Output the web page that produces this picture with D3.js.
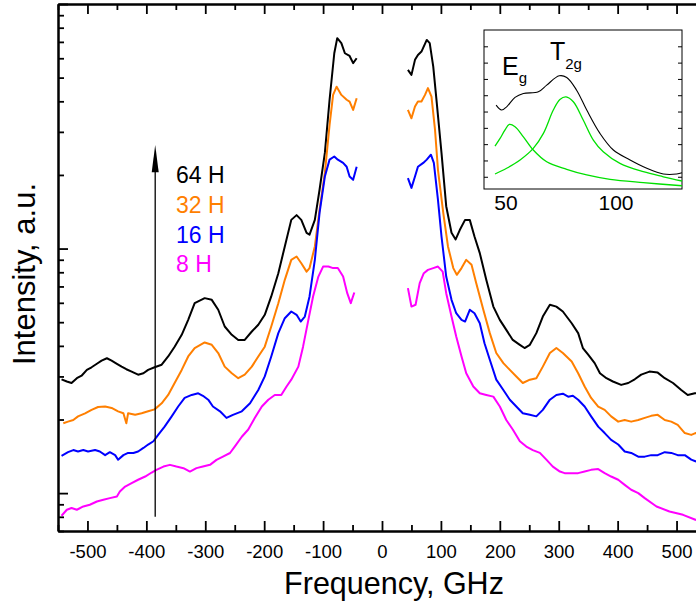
<!DOCTYPE html>
<html>
<head>
<meta charset="utf-8">
<script src="https://cdn.jsdelivr.net/npm/d3@7"></script>
<style>
  body { margin: 0; background: #fff; }
  svg text { font-family: "Liberation Sans", Arial, sans-serif; }
</style>
</head>
<body>
<div id="chart"></div>
<script>
// spectra: [frequency GHz, intensity a.u.]
const h64 = [
  [-544,2.92],[-535,2.86],[-527,2.82],[-518,2.95],[-510,3.02],[-501,3.19],[-493,3.27],[-484,3.38],[-476,3.48],[-467,3.56],
  [-459,3.48],[-450,3.38],[-442,3.29],[-434,3.21],[-425,3.14],[-414,3.05],[-405,3.09],[-397,3.19],[-386,3.27],[-374,3.35],
  [-363,3.62],[-352,3.97],[-340,4.44],[-329,5.11],[-318,5.98],[-301,6.27],[-289,6.17],[-278,5.62],[-267,4.80],[-255,4.44],
  [-244,4.23],[-233,4.23],[-221,4.58],[-210,4.88],[-199,5.36],[-188,6.37],[-176,7.93],[-165,10.2],[-154,13.1],[-145,13.7],
  [-137,13.1],[-128,11.6],[-123,11.4],[-114,13.1],[-106,17.4],[-97,24.6],[-89,40.6],[-81,62.9],[-76,72.5],[-69,69.2],
  [-63,62.9],[-55,61.3],[-49,57.3],[-43,60.0],
  [44,53.8],[50,51.3],[56,59.1],[61,61.9],[67,63.9],[76,71.3],[81,69.2],[87,55.5],[93,39.3],[101,24.6],
  [109,14.9],[118,11.6],[125,10.9],[132,11.9],[141,13.1],[149,13.1],[157,11.2],[166,9.58],[177,7.45],[189,5.79],
  [200,5.11],[211,4.65],[222,4.23],[234,4.04],[242,3.92],[251,4.04],[262,4.51],[273,5.27],[285,5.89],[296,5.79],
  [307,5.53],[322,4.95],[333,4.51],[341,3.92],[350,3.68],[361,3.40],[370,3.09],[381,2.95],[392,2.86],[406,2.77],
  [418,2.82],[429,2.92],[440,3.05],[454,3.14],[468,3.11],[480,2.95],[494,2.82],[508,2.64],[519,2.52],[531,2.56],[545,2.55]
];
const h32 = [
  [-541,1.93],[-533,1.96],[-524,1.99],[-516,2.06],[-504,2.12],[-493,2.19],[-482,2.25],[-470,2.26],[-459,2.23],[-448,2.16],
  [-439,2.12],[-434,1.93],[-431,2.12],[-419,2.09],[-408,2.12],[-397,2.16],[-386,2.20],[-374,2.33],[-363,2.52],[-352,2.82],
  [-340,3.19],[-329,3.62],[-318,3.92],[-301,4.13],[-289,4.04],[-278,3.74],[-267,3.29],[-255,3.09],[-244,2.95],[-233,3.05],
  [-221,3.29],[-210,3.62],[-199,3.97],[-188,4.80],[-176,5.98],[-165,7.45],[-154,8.99],[-145,9.28],[-137,8.71],[-128,8.05],
  [-123,8.32],[-114,10.2],[-106,14.4],[-97,20.4],[-89,32.0],[-83,42.5],[-77,45.9],[-69,42.5],[-60,40.6],[-55,39.9],
  [-49,36.9],[-43,41.2],
  [44,36.9],[50,34.1],[56,38.1],[61,39.9],[67,39.9],[73,42.5],[78,45.3],[84,41.8],[90,30.6],[95,21.0],
  [104,14.0],[112,10.2],[121,8.32],[127,7.81],[135,8.32],[143,8.99],[152,8.58],[160,7.22],[172,5.62],[183,4.51],
  [194,3.74],[206,3.40],[217,3.19],[228,3.00],[239,2.82],[251,2.91],[262,2.95],[273,3.29],[285,3.74],[296,3.92],
  [307,3.74],[322,3.45],[333,3.09],[344,2.73],[355,2.45],[367,2.26],[378,2.19],[389,2.06],[401,1.96],[412,1.99],
  [423,1.96],[435,1.99],[446,2.03],[457,2.07],[468,2.09],[480,1.99],[491,1.96],[502,1.90],[514,1.76],[525,1.73],[532,1.76],[545,1.72]
];
const h16 = [
  [-544,1.42],[-533,1.47],[-524,1.50],[-516,1.48],[-507,1.50],[-499,1.48],[-487,1.50],[-479,1.48],[-470,1.43],[-462,1.47],
  [-453,1.43],[-448,1.37],[-439,1.43],[-431,1.46],[-422,1.46],[-414,1.48],[-405,1.53],[-397,1.58],[-388,1.63],[-380,1.73],
  [-369,1.87],[-357,2.06],[-346,2.26],[-335,2.45],[-323,2.52],[-312,2.56],[-304,2.50],[-295,2.41],[-287,2.26],[-275,2.16],
  [-264,2.03],[-253,2.09],[-238,2.16],[-224,2.33],[-210,2.64],[-199,3.00],[-188,3.62],[-176,4.51],[-165,5.19],[-154,5.53],
  [-145,5.36],[-138,5.03],[-131,5.27],[-123,6.37],[-114,8.99],[-106,14.0],[-97,19.7],[-89,23.1],[-81,23.8],[-75,23.1],
  [-66,22.4],[-60,21.6],[-55,19.7],[-49,19.1],[-43,21.6],
  [44,19.4],[50,17.7],[56,19.7],[61,21.6],[70,22.4],[76,23.1],[83,24.2],[88,22.4],[95,15.8],[101,11.2],
  [109,7.68],[118,6.17],[126,5.44],[135,5.11],[141,5.03],[149,5.62],[157,5.44],[166,4.95],[174,4.10],[183,3.51],
  [194,2.91],[206,2.64],[217,2.41],[228,2.26],[239,2.12],[251,2.09],[262,2.06],[273,2.19],[285,2.41],[296,2.52],
  [307,2.55],[316,2.48],[324,2.50],[333,2.41],[344,2.26],[355,2.06],[367,1.87],[378,1.76],[389,1.65],[401,1.58],
  [412,1.48],[423,1.46],[435,1.41],[446,1.41],[457,1.43],[468,1.43],[480,1.47],[491,1.46],[502,1.43],[514,1.43],
  [525,1.37],[532,1.35],[545,1.33]
];
const h8 = [
  [-544,0.808],[-535,0.855],[-527,0.869],[-518,0.855],[-507,0.882],[-496,0.896],[-484,0.924],[-473,0.939],[-462,0.954],[-450,0.969],
  [-445,1.015],[-436,1.064],[-425,1.099],[-414,1.134],[-402,1.169],[-391,1.214],[-383,1.245],[-371,1.284],[-360,1.305],[-349,1.284],
  [-337,1.265],[-326,1.225],[-315,1.265],[-304,1.284],[-292,1.305],[-281,1.368],[-270,1.411],[-258,1.459],[-250,1.55],[-238,1.70],
  [-227,1.82],[-216,2.03],[-204,2.26],[-193,2.41],[-182,2.52],[-171,2.52],[-162,2.73],[-154,2.91],[-142,3.29],[-134,3.97],
  [-125,5.11],[-117,6.37],[-108,7.68],[-100,8.44],[-91,8.44],[-83,8.32],[-75,8.32],[-66,7.68],[-59,6.57],[-53,5.98],[-47,6.61],
  [44,6.89],[50,5.79],[57,5.89],[64,7.22],[71,7.93],[78,8.18],[87,8.32],[95,8.44],[103,8.05],[109,6.57],
  [118,5.27],[126,4.37],[135,3.62],[143,3.09],[155,2.73],[166,2.56],[177,2.52],[189,2.48],[200,2.26],[211,1.99],
  [222,1.82],[234,1.63],[245,1.55],[256,1.50],[268,1.46],[279,1.37],[290,1.284],[302,1.225],[310,1.207],[322,1.207],
  [333,1.207],[344,1.225],[355,1.245],[367,1.254],[378,1.207],[389,1.169],[401,1.134],[412,1.081],[423,1.032],[435,1.0],
  [446,0.954],[466,0.882],[488,0.841],[511,0.815],[532,0.778],[545,0.77]
];

const seriesLabels = ["64 H", "32 H", "16 H", "8 H"];
const seriesColors = ["#000000", "#ff7f00", "#0000ff", "#ff00ff"];

const xMajor = [-500,-400,-300,-200,-100,0,100,200,300,400,500];
const xMinor = [-550,-450,-350,-250,-150,-50,50,150,250,350,450,550];
const yMajor = [1,10,100];
const yMinor = [0.7,0.8,0.9,2,3,4,5,6,7,8,9,20,30,40,50,60,70,80,90];

// inset: fitted components, [frequency GHz, intensity]
const insetTotal = [[45.5,5.39],[48,5.09],[50.3,5.29],[54.1,5.87],[57.9,6.11],[64.7,6.21],[68.5,6.62],[74.2,7.19],[77.6,7.09],
  [82.1,6.31],[86.7,5.09],[92.7,3.66],[98.8,2.64],[106.4,2.03],[114,1.52],[121.5,1.17],[127.6,1.17],[130,1.25]];
const insetEg = [[45,2.88],[47.3,3.35],[49.5,3.86],[51.5,4.21],[54.1,4.07],[57.9,3.45],[62.4,2.64],[68.5,1.92],[77.6,1.46],
  [86.7,1.11],[97.3,0.84],[112.4,0.64],[130,0.45]];
const insetT2g = [[45,1.17],[50.3,1.52],[56.4,2.03],[62.4,2.74],[67,3.66],[71.5,5.09],[74.5,5.74],[77.3,5.90],[80.6,5.60],
  [85.1,4.48],[89.7,3.25],[94.2,2.53],[101.8,1.82],[112.4,1.31],[121.5,1.00],[130,0.74]];
const insetXTicks = [50, 100];
const insetYTicks = [1,2,3,4,5,6,7,8,9];

(function() {
  var width = 696,
      height = 604;

  var x = d3.scaleLinear().domain([-550, 550]).range([58, 706]);
  var y = d3.scaleLog().domain([0.7, 100]).range([531, 4]);

  const svg = d3.select("#chart").append("svg")
                .attr("width", width)
                .attr("height", height);

  svg.append("defs").append("clipPath").attr("id", "plotclip")
     .append("rect").attr("x", 58).attr("y", 4).attr("width", 648).attr("height", 527);

  // the four spectra, each drawn as two branches around the laser line
  const line = d3.line().x(d => x(d[0])).y(d => y(d[1]));
  const curves = svg.append("g").attr("clip-path", "url(#plotclip)");
  [h64, h32, h16, h8].forEach((data, i) => {
    [data.filter(d => d[0] < 0), data.filter(d => d[0] > 0)].forEach(part => {
      curves.append("path")
        .datum(part)
        .attr("d", line)
        .attr("fill", "none")
        .attr("stroke", seriesColors[i])
        .attr("stroke-width", 2)
        .attr("stroke-linejoin", "round");
    });
  });

  // axes, ticks pointing inward
  function styleAxis(g) {
    g.select(".domain").attr("stroke", "#000").attr("stroke-width", 2);
    g.selectAll(".tick line").attr("stroke", "#000").attr("stroke-width", 1.8);
    g.attr("font-family", "Liberation Sans, Arial, sans-serif");
  }

  svg.append("g").attr("transform", "translate(0,531)")
     .call(d3.axisBottom(x).tickValues(xMajor).tickSizeInner(-10).tickSizeOuter(0).tickPadding(14).tickFormat(d => String(d)))
     .call(styleAxis)
     .attr("font-size", 18.5)
     .selectAll("text").attr("fill", "#000");
  svg.append("g").attr("transform", "translate(0,531)")
     .call(d3.axisBottom(x).tickValues(xMinor).tickSizeInner(-6).tickSizeOuter(0).tickFormat(""))
     .call(styleAxis);

  svg.append("g").attr("transform", "translate(0,4)")
     .call(d3.axisTop(x).tickValues(xMajor).tickSizeInner(-10).tickSizeOuter(0).tickFormat(""))
     .call(styleAxis);
  svg.append("g").attr("transform", "translate(0,4)")
     .call(d3.axisTop(x).tickValues(xMinor).tickSizeInner(-6).tickSizeOuter(0).tickFormat(""))
     .call(styleAxis);

  svg.append("g").attr("transform", "translate(58,0)")
     .call(d3.axisLeft(y).tickValues(yMajor).tickSizeInner(-10).tickSizeOuter(0).tickFormat(""))
     .call(styleAxis);
  svg.append("g").attr("transform", "translate(58,0)")
     .call(d3.axisLeft(y).tickValues(yMinor).tickSizeInner(-6).tickSizeOuter(0).tickFormat(""))
     .call(styleAxis);

  svg.append("g").attr("transform", "translate(706,0)")
     .call(d3.axisRight(y).tickValues(yMajor).tickSizeInner(-10).tickSizeOuter(0).tickFormat(""))
     .call(styleAxis);
  svg.append("g").attr("transform", "translate(706,0)")
     .call(d3.axisRight(y).tickValues(yMinor).tickSizeInner(-6).tickSizeOuter(0).tickFormat(""))
     .call(styleAxis);

  // axis titles
  svg.append("text")
     .attr("x", 394).attr("y", 594)
     .attr("text-anchor", "middle")
     .attr("font-size", 30.5)
     .text("Frequency, GHz");
  svg.append("text")
     .attr("transform", "translate(35,274) rotate(-90)")
     .attr("text-anchor", "middle")
     .attr("font-size", 31)
     .text("Intensity, a.u.");

  // arrow and legend
  const arrowX = x(-385);
  svg.append("line")
     .attr("x1", arrowX).attr("x2", arrowX)
     .attr("y1", y(0.8)).attr("y2", y(22))
     .attr("stroke", "#000").attr("stroke-width", 1.3);
  svg.append("path")
     .attr("d", `M${arrowX},${y(26.5)} L${arrowX - 3.5},${y(20.5)} L${arrowX + 3.5},${y(20.5)} Z`)
     .attr("fill", "#000");

  svg.append("g")
     .selectAll("text")
     .data(seriesLabels)
     .join("text")
     .attr("x", 176)
     .attr("y", (d, i) => 183 + i * 29.8)
     .attr("font-size", 23)
     .attr("fill", (d, i) => seriesColors[i])
     .text(d => d);

  // inset
  var ix = d3.scaleLinear().domain([40, 130]).range([484, 682]);
  var iy = d3.scaleLinear().domain([0.25, 10]).range([189, 30]);
  const inset = svg.append("g");
  inset.append("rect")
       .attr("x", 484).attr("y", 30).attr("width", 198).attr("height", 159)
       .attr("fill", "#fff").attr("stroke", "#000").attr("stroke-width", 1);

  const iline = d3.line().curve(d3.curveCatmullRom).x(d => ix(d[0])).y(d => iy(d[1]));
  inset.append("path").datum(insetEg).attr("d", iline)
       .attr("fill", "none").attr("stroke", "#00e000").attr("stroke-width", 1.3);
  inset.append("path").datum(insetT2g).attr("d", iline)
       .attr("fill", "none").attr("stroke", "#00e000").attr("stroke-width", 1.3);
  inset.append("path").datum(insetTotal).attr("d", iline)
       .attr("fill", "none").attr("stroke", "#000").attr("stroke-width", 1.1);

  inset.append("g").attr("transform", "translate(484,0)")
       .call(d3.axisLeft(iy).tickValues(insetYTicks).tickSizeInner(-4).tickSizeOuter(0).tickFormat(""))
       .call(g => g.select(".domain").remove());
  inset.append("g").attr("transform", "translate(682,0)")
       .call(d3.axisRight(iy).tickValues(insetYTicks).tickSizeInner(-4).tickSizeOuter(0).tickFormat(""))
       .call(g => g.select(".domain").remove());

  inset.append("g")
       .selectAll("text")
       .data(insetXTicks)
       .join("text")
       .attr("x", d => ix(d))
       .attr("y", 210)
       .attr("text-anchor", "middle")
       .attr("font-size", 21)
       .text(d => d);

  const eg = inset.append("text").attr("x", 502).attr("y", 75).attr("font-size", 25);
  eg.append("tspan").text("E");
  eg.append("tspan").attr("font-size", 15).attr("dy", 8).text("g");
  const tg = inset.append("text").attr("x", 550).attr("y", 60).attr("font-size", 25);
  tg.append("tspan").text("T");
  tg.append("tspan").attr("font-size", 15).attr("dy", 9).text("2g");
})();
</script>
</body>
</html>
